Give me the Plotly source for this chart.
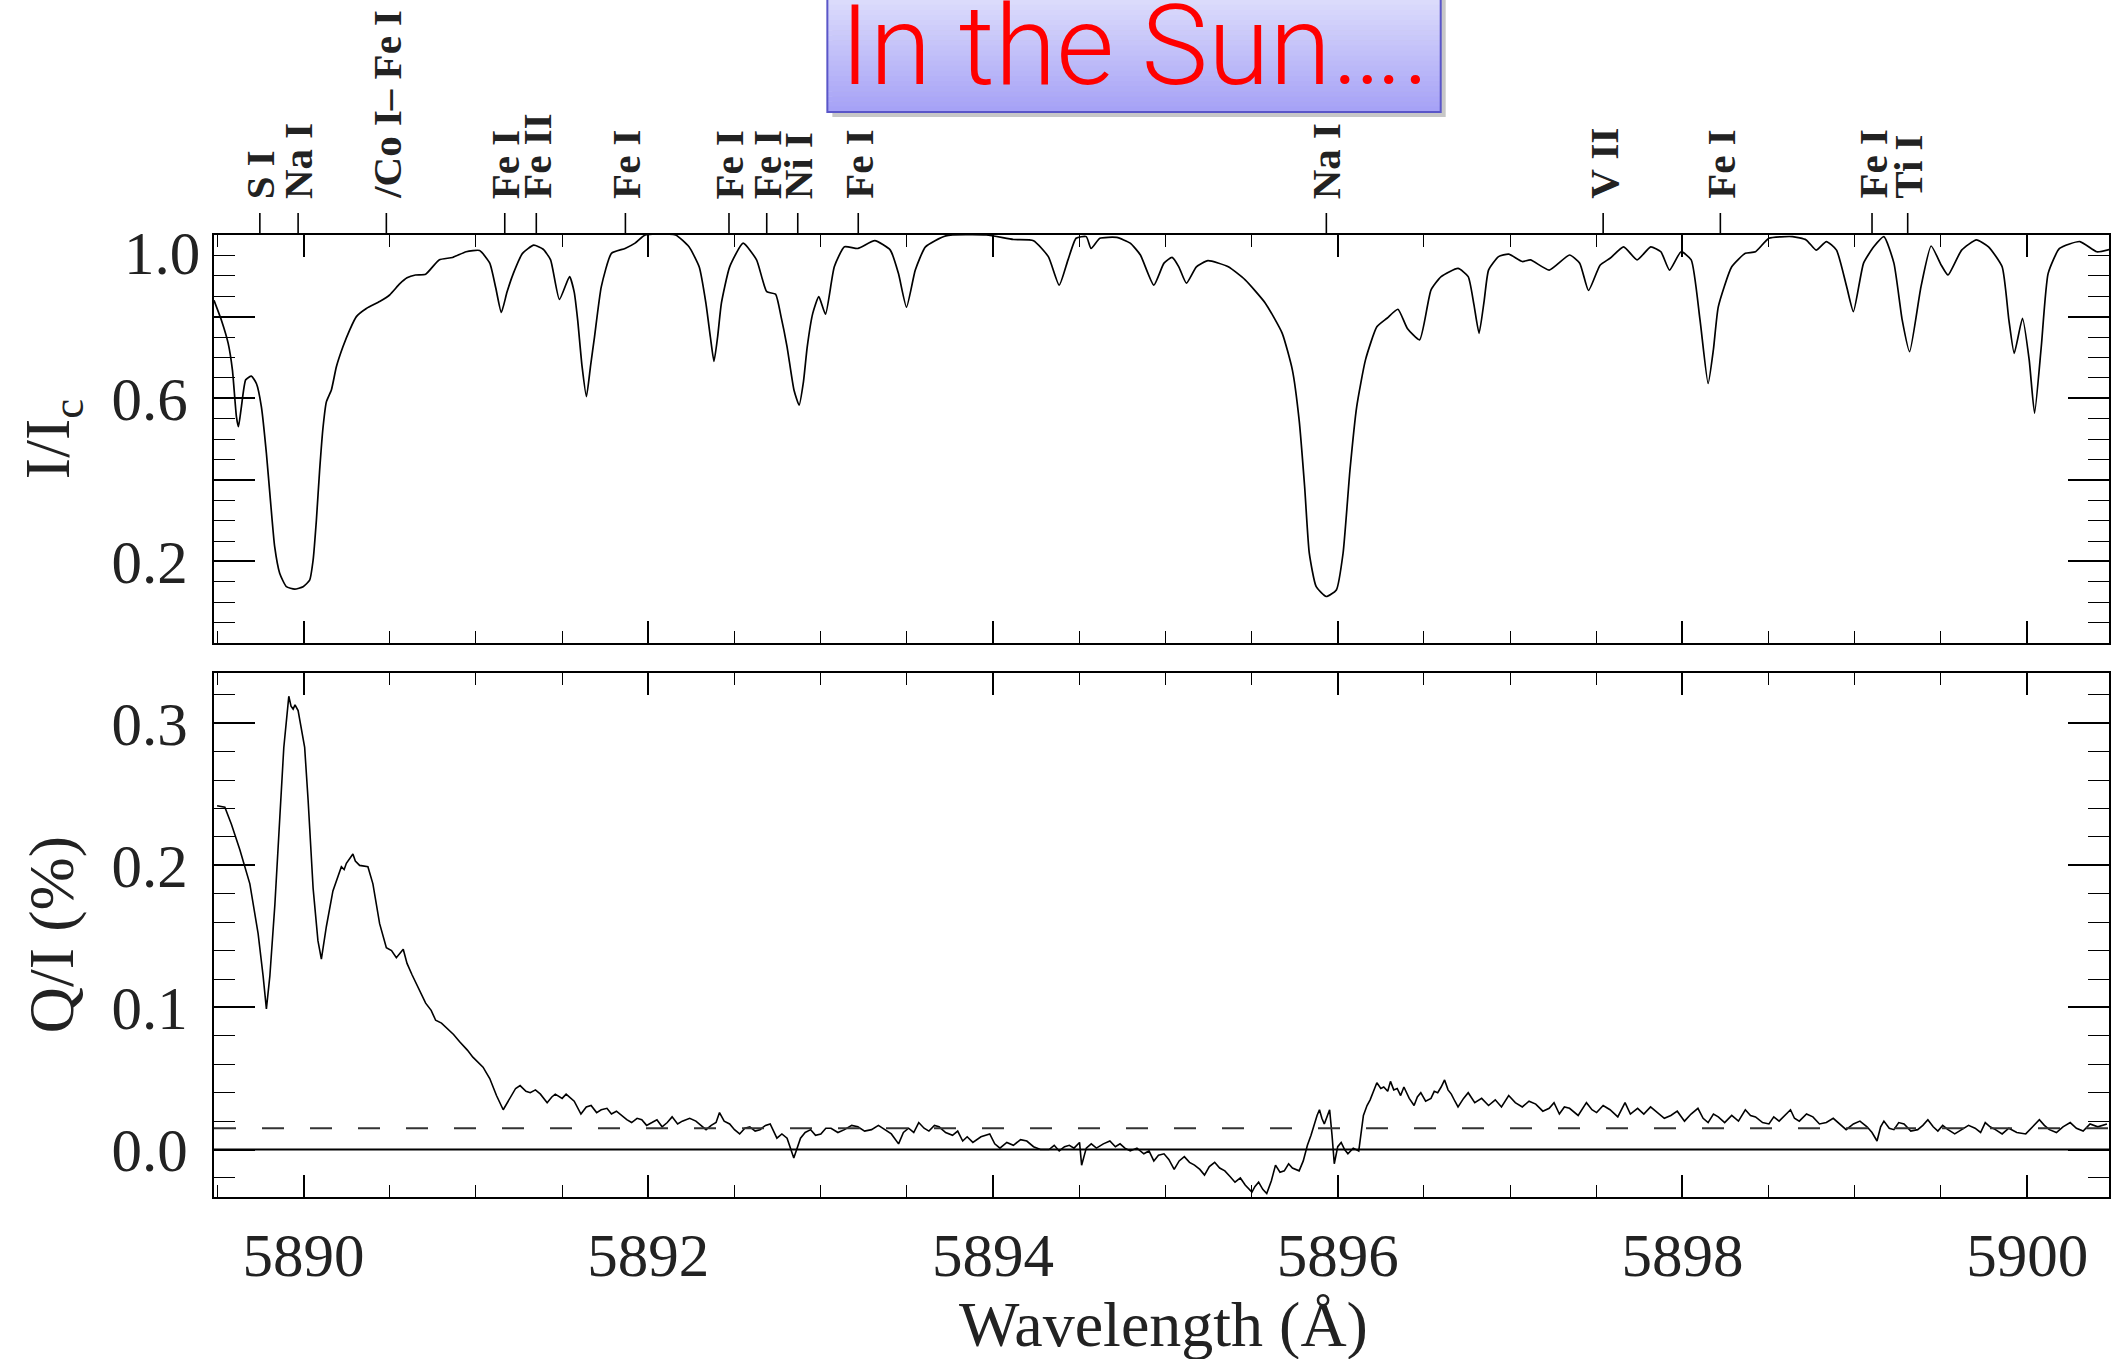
import plotly.graph_objects as go

# ---------------- data ----------------
WAVE_I = [5889.480, 5889.524, 5889.562, 5889.587, 5889.610, 5889.622, 5889.639, 5889.664, 5889.697, 5889.726,
          5889.755, 5889.784, 5889.809, 5889.832, 5889.861, 5889.900, 5889.948, 5889.997, 5890.035, 5890.055,
          5890.074, 5890.093, 5890.113, 5890.132, 5890.161, 5890.190, 5890.228, 5890.267, 5890.306, 5890.364,
          5890.441, 5890.499, 5890.557, 5890.600, 5890.649, 5890.708, 5890.786, 5890.864, 5890.943, 5891.021,
          5891.080, 5891.115, 5891.147, 5891.180, 5891.217, 5891.270, 5891.335, 5891.390, 5891.433, 5891.484,
          5891.543, 5891.570, 5891.590, 5891.615, 5891.641, 5891.665, 5891.688, 5891.727, 5891.786, 5891.865,
          5891.923, 5891.982, 5892.158, 5892.236, 5892.295, 5892.334, 5892.360, 5892.381, 5892.402, 5892.424,
          5892.472, 5892.550, 5892.628, 5892.687, 5892.738, 5892.770, 5892.805, 5892.845, 5892.875, 5892.900,
          5892.922, 5892.954, 5892.989, 5893.028, 5893.079, 5893.138, 5893.216, 5893.314, 5893.404, 5893.451,
          5893.498, 5893.549, 5893.608, 5893.726, 5893.961, 5894.118, 5894.235, 5894.321, 5894.384, 5894.435,
          5894.482, 5894.541, 5894.569, 5894.620, 5894.718, 5894.796, 5894.855, 5894.933, 5894.992, 5895.039,
          5895.078, 5895.122, 5895.180, 5895.247, 5895.365, 5895.463, 5895.580, 5895.678, 5895.737, 5895.776,
          5895.808, 5895.835, 5895.875, 5895.933, 5895.992, 5896.031, 5896.071, 5896.110, 5896.161, 5896.227,
          5896.286, 5896.349, 5896.404, 5896.475, 5896.541, 5896.600, 5896.698, 5896.757, 5896.790, 5896.820,
          5896.850, 5896.875, 5896.933, 5896.992, 5897.071, 5897.118, 5897.227, 5897.345, 5897.404, 5897.455,
          5897.522, 5897.580, 5897.659, 5897.737, 5897.816, 5897.875, 5897.925, 5897.992, 5898.051, 5898.102,
          5898.149, 5898.180, 5898.208, 5898.286, 5898.365, 5898.424, 5898.502, 5898.639, 5898.718, 5898.776,
          5898.835, 5898.894, 5898.953, 5898.992, 5899.051, 5899.110, 5899.169, 5899.227, 5899.275, 5899.318,
          5899.384, 5899.443, 5899.502, 5899.541, 5899.620, 5899.706, 5899.776, 5899.855, 5899.894, 5899.925,
          5899.973, 5900.012, 5900.043, 5900.082, 5900.122, 5900.188, 5900.306, 5900.404, 5900.480]
INTENSITY = [0.840, 0.790, 0.735, 0.669, 0.555, 0.530, 0.579, 0.645, 0.654, 0.636,
             0.579, 0.465, 0.342, 0.236, 0.171, 0.138, 0.132, 0.138, 0.154, 0.203,
             0.301, 0.424, 0.530, 0.591, 0.620, 0.677, 0.726, 0.767, 0.800, 0.820,
             0.837, 0.853, 0.880, 0.895, 0.902, 0.904, 0.939, 0.945, 0.959, 0.962,
             0.931, 0.870, 0.810, 0.860, 0.906, 0.955, 0.975, 0.965, 0.939, 0.842,
             0.898, 0.860, 0.792, 0.680, 0.604, 0.680, 0.751, 0.873, 0.955, 0.967,
             0.980, 1.000, 1.000, 0.971, 0.922, 0.833, 0.750, 0.690, 0.750, 0.833,
             0.922, 0.980, 0.939, 0.861, 0.855, 0.800, 0.726, 0.620, 0.583, 0.640,
             0.726, 0.808, 0.849, 0.806, 0.922, 0.971, 0.967, 0.986, 0.963, 0.906,
             0.823, 0.914, 0.971, 0.998, 1.000, 0.989, 0.986, 0.947, 0.877, 0.939,
             0.992, 0.996, 0.967, 0.992, 0.994, 0.980, 0.951, 0.877, 0.931, 0.945,
             0.922, 0.882, 0.922, 0.937, 0.922, 0.890, 0.833, 0.759, 0.669, 0.547,
             0.383, 0.220, 0.138, 0.114, 0.130, 0.220, 0.424, 0.579, 0.694, 0.775,
             0.796, 0.818, 0.771, 0.743, 0.865, 0.898, 0.918, 0.898, 0.830, 0.759,
             0.840, 0.914, 0.947, 0.953, 0.935, 0.939, 0.914, 0.951, 0.931, 0.864,
             0.926, 0.943, 0.971, 0.939, 0.971, 0.959, 0.914, 0.959, 0.939, 0.792,
             0.636, 0.720, 0.824, 0.922, 0.955, 0.959, 0.992, 0.996, 0.988, 0.963,
             0.984, 0.963, 0.873, 0.812, 0.931, 0.971, 0.996, 0.931, 0.792, 0.714,
             0.873, 0.973, 0.926, 0.902, 0.963, 0.988, 0.971, 0.922, 0.792, 0.710,
             0.796, 0.694, 0.563, 0.726, 0.906, 0.967, 0.984, 0.959, 0.965]

WAVE_Q = [5889.498, 5889.543, 5889.581, 5889.630, 5889.688, 5889.736, 5889.765, 5889.784, 5889.804, 5889.833,
          5889.862, 5889.885, 5889.914, 5889.927, 5889.939, 5889.950, 5889.968, 5890.006, 5890.026, 5890.055,
          5890.083, 5890.103, 5890.132, 5890.170, 5890.219, 5890.235, 5890.248, 5890.286, 5890.300, 5890.325,
          5890.373, 5890.402, 5890.441, 5890.480, 5890.510, 5890.538, 5890.578, 5890.600, 5890.629, 5890.668,
          5890.708, 5890.740, 5890.766, 5890.800, 5890.825, 5890.870, 5890.904, 5890.950, 5890.982, 5891.041,
          5891.080, 5891.119, 5891.158, 5891.198, 5891.230, 5891.256, 5891.290, 5891.315, 5891.345, 5891.374,
          5891.413, 5891.440, 5891.460, 5891.500, 5891.523, 5891.570, 5891.609, 5891.640, 5891.668, 5891.700,
          5891.727, 5891.760, 5891.786, 5891.815, 5891.844, 5891.875, 5891.903, 5891.935, 5891.962, 5891.990,
          5892.021, 5892.050, 5892.080, 5892.110, 5892.138, 5892.170, 5892.197, 5892.240, 5892.276, 5892.305,
          5892.335, 5892.365, 5892.393, 5892.413, 5892.440, 5892.472, 5892.500, 5892.530, 5892.560, 5892.589,
          5892.620, 5892.648, 5892.680, 5892.707, 5892.746, 5892.775, 5892.805, 5892.844, 5892.883, 5892.910,
          5892.942, 5892.970, 5893.001, 5893.030, 5893.060, 5893.100, 5893.138, 5893.180, 5893.216, 5893.255,
          5893.295, 5893.335, 5893.373, 5893.410, 5893.452, 5893.480, 5893.510, 5893.540, 5893.569, 5893.600,
          5893.628, 5893.660, 5893.687, 5893.725, 5893.765, 5893.795, 5893.824, 5893.850, 5893.883, 5893.930,
          5893.981, 5894.010, 5894.040, 5894.080, 5894.118, 5894.160, 5894.196, 5894.235, 5894.275, 5894.325,
          5894.355, 5894.384, 5894.415, 5894.443, 5894.470, 5894.502, 5894.514, 5894.541, 5894.570, 5894.600,
          5894.640, 5894.678, 5894.710, 5894.737, 5894.765, 5894.796, 5894.835, 5894.875, 5894.905, 5894.933,
          5894.960, 5894.992, 5895.020, 5895.051, 5895.080, 5895.110, 5895.140, 5895.169, 5895.200, 5895.227,
          5895.255, 5895.286, 5895.315, 5895.345, 5895.375, 5895.404, 5895.435, 5895.463, 5895.502, 5895.520,
          5895.541, 5895.565, 5895.588, 5895.615, 5895.639, 5895.665, 5895.690, 5895.715, 5895.737, 5895.776,
          5895.800, 5895.824, 5895.845, 5895.863, 5895.880, 5895.894, 5895.908, 5895.922, 5895.938, 5895.953,
          5895.967, 5895.980, 5896.000, 5896.020, 5896.040, 5896.059, 5896.090, 5896.122, 5896.149, 5896.170,
          5896.188, 5896.210, 5896.227, 5896.250, 5896.267, 5896.290, 5896.306, 5896.325, 5896.345, 5896.365,
          5896.384, 5896.415, 5896.443, 5896.462, 5896.482, 5896.510, 5896.541, 5896.560, 5896.580, 5896.600,
          5896.620, 5896.640, 5896.659, 5896.680, 5896.698, 5896.730, 5896.757, 5896.795, 5896.835, 5896.875,
          5896.914, 5896.950, 5896.992, 5897.030, 5897.071, 5897.110, 5897.149, 5897.190, 5897.227, 5897.255,
          5897.286, 5897.315, 5897.345, 5897.395, 5897.443, 5897.475, 5897.502, 5897.540, 5897.580, 5897.625,
          5897.667, 5897.698, 5897.740, 5897.776, 5897.815, 5897.855, 5897.895, 5897.933, 5897.970, 5898.012,
          5898.050, 5898.090, 5898.120, 5898.149, 5898.180, 5898.208, 5898.245, 5898.286, 5898.325, 5898.365,
          5898.395, 5898.424, 5898.465, 5898.502, 5898.530, 5898.561, 5898.595, 5898.627, 5898.650, 5898.678,
          5898.720, 5898.757, 5898.795, 5898.835, 5898.875, 5898.914, 5898.950, 5898.992, 5899.030, 5899.071,
          5899.100, 5899.129, 5899.150, 5899.169, 5899.200, 5899.227, 5899.255, 5899.286, 5899.325, 5899.365,
          5899.395, 5899.424, 5899.455, 5899.482, 5899.510, 5899.541, 5899.580, 5899.620, 5899.660, 5899.698,
          5899.730, 5899.757, 5899.785, 5899.816, 5899.855, 5899.894, 5899.940, 5899.992, 5900.030, 5900.071,
          5900.100, 5900.129, 5900.170, 5900.208, 5900.250, 5900.286, 5900.325, 5900.365, 5900.410, 5900.463]
Q_OVER_I = [0.242, 0.241, 0.229, 0.211, 0.187, 0.152, 0.122, 0.099, 0.122, 0.172,
            0.234, 0.283, 0.319, 0.312, 0.310, 0.313, 0.309, 0.283, 0.246, 0.184,
            0.147, 0.134, 0.157, 0.182, 0.199, 0.197, 0.2015, 0.208, 0.203, 0.200,
            0.199, 0.187, 0.159, 0.142, 0.140, 0.135, 0.141, 0.131, 0.123, 0.113,
            0.103, 0.098, 0.091, 0.089, 0.086, 0.081, 0.076, 0.070, 0.065, 0.058,
            0.050, 0.038, 0.028, 0.036, 0.043, 0.045, 0.041, 0.040, 0.042, 0.039,
            0.033, 0.037, 0.039, 0.036, 0.039, 0.034, 0.025, 0.030, 0.031, 0.026,
            0.028, 0.029, 0.025, 0.027, 0.024, 0.021, 0.019, 0.022, 0.021, 0.017,
            0.019, 0.021, 0.016, 0.019, 0.023, 0.018, 0.020, 0.022, 0.020, 0.017,
            0.014, 0.017, 0.019, 0.026, 0.020, 0.018, 0.014, 0.011, 0.015, 0.016,
            0.013, 0.014, 0.017, 0.018, 0.008, 0.011, 0.008, -0.006, 0.008, 0.012,
            0.014, 0.010, 0.011, 0.015, 0.015, 0.012, 0.014, 0.017, 0.016, 0.013,
            0.014, 0.017, 0.014, 0.011, 0.004, 0.012, 0.015, 0.012, 0.019, 0.015,
            0.013, 0.017, 0.016, 0.012, 0.010, 0.013, 0.006, 0.009, 0.005, 0.009,
            0.011, 0.004, 0.001, 0.005, 0.003, 0.007, 0.006, 0.002, 0.000, 0.000,
            0.003, -0.001, 0.002, 0.003, 0.001, 0.005, -0.011, 0.001, 0.004, 0.001,
            0.004, 0.006, 0.002, 0.004, 0.001, -0.001, 0.001, -0.003, -0.001, -0.008,
            -0.004, -0.003, -0.007, -0.014, -0.008, -0.005, -0.009, -0.011, -0.014, -0.018,
            -0.012, -0.009, -0.013, -0.015, -0.019, -0.023, -0.020, -0.025, -0.030, -0.026,
            -0.023, -0.028, -0.031, -0.022, -0.011, -0.016, -0.015, -0.010, -0.013, -0.015,
            -0.008, 0.003, 0.010, 0.018, 0.024, 0.028, 0.022, 0.018, 0.024, 0.028,
            0.010, -0.010, 0.002, 0.005, 0.000, -0.003, 0.001, -0.001, 0.024, 0.031,
            0.035, 0.042, 0.047, 0.043, 0.044, 0.041, 0.048, 0.042, 0.043, 0.038,
            0.044, 0.036, 0.031, 0.037, 0.040, 0.034, 0.036, 0.041, 0.040, 0.044,
            0.049, 0.042, 0.039, 0.034, 0.030, 0.036, 0.040, 0.033, 0.036, 0.031,
            0.035, 0.030, 0.038, 0.033, 0.030, 0.034, 0.032, 0.027, 0.029, 0.033,
            0.025, 0.030, 0.029, 0.024, 0.033, 0.028, 0.026, 0.031, 0.028, 0.023,
            0.033, 0.025, 0.029, 0.025, 0.030, 0.026, 0.022, 0.024, 0.027, 0.020,
            0.025, 0.029, 0.022, 0.019, 0.025, 0.023, 0.019, 0.024, 0.020, 0.028,
            0.024, 0.023, 0.019, 0.018, 0.023, 0.020, 0.024, 0.028, 0.022, 0.020,
            0.025, 0.023, 0.018, 0.019, 0.022, 0.018, 0.014, 0.018, 0.020, 0.016,
            0.012, 0.006, 0.016, 0.020, 0.015, 0.014, 0.019, 0.018, 0.013, 0.014,
            0.017, 0.021, 0.016, 0.013, 0.017, 0.014, 0.011, 0.014, 0.017, 0.015,
            0.012, 0.019, 0.016, 0.014, 0.011, 0.015, 0.012, 0.011, 0.016, 0.021,
            0.017, 0.014, 0.012, 0.016, 0.019, 0.015, 0.013, 0.018, 0.016, 0.018]

X_RANGE = [5889.48, 5900.475]
X_TICKS = [5890, 5892, 5894, 5896, 5898, 5900]
I_RANGE = [0.0, 1.0]
I_TICKS = [0.0, 0.2, 0.4, 0.6, 0.8, 1.0]
I_TICK_TEXT = ["", "0.2", "", "0.6", "", ""]
I_TOP_LABEL = ("1.0", 0.955)
Q_RANGE = [-0.0334, 0.3354]
Q_TICKS = [0.0, 0.1, 0.2, 0.3]
Q_TICK_TEXT = ["0.0", "0.1", "0.2", "0.3"]
ZERO_LEVEL = 0.0
DASH_LEVEL = 0.015

LINE_WAVES = [5889.746, 5889.968, 5890.48, 5891.167, 5891.35, 5891.867, 5892.468, 5892.687,
              5892.867, 5893.218, 5895.934, 5897.54, 5898.22, 5899.10, 5899.307]
LINE_NAMES = ["S I", "Na I", "/Co I\u2013 Fe I", "Fe I", "Fe II", "Fe I", "Fe I", "Fe I",
              "Ni I", "Fe I", "Na I", "V II", "Fe I", "Fe I", "Ti I"]

TITLE = "In the Sun\u2026."
X_TITLE = "Wavelength (\u00c5)"
I_TITLE = "I/I<sub>c</sub>"
Q_TITLE = "Q/I (%)"

# ---------------- layout geometry ----------------
W, H = 2111, 1359
ML, MR, MT, MB = 214, 0, 235, 162
PW, PH = W - ML - MR, H - MT - MB


def px_x(px):
    return (px - ML) / PW


def px_y(py):
    return (H - MB - py) / PH


TOP_DOMAIN = [px_y(643), 1.0]
BOT_DOMAIN = [0.0, px_y(673)]

SERIF = "Liberation Serif"
TICK_FONT = dict(family=SERIF, size=61, color="#222")

fig = go.Figure()
fig.add_trace(go.Scatter(x=WAVE_I, y=INTENSITY, mode="lines", xaxis="x", yaxis="y",
                         line=dict(color="black", width=1.7, shape="spline", smoothing=0.5),
                         hoverinfo="skip"))
fig.add_trace(go.Scatter(x=WAVE_Q, y=Q_OVER_I, mode="lines", xaxis="x2", yaxis="y2",
                         line=dict(color="black", width=1.6), hoverinfo="skip"))

common_x = dict(range=X_RANGE, showline=True, linecolor="black", linewidth=2, mirror="ticks",
                ticks="inside", ticklen=22, tickwidth=1.6, tickcolor="black",
                tickmode="array", tickvals=X_TICKS, showgrid=False, zeroline=False,
                minor=dict(ticks="inside", ticklen=12, tickwidth=1.4, tickcolor="black",
                           dtick=0.5, tick0=5890, showgrid=False))
common_y = dict(showline=True, linecolor="black", linewidth=2, mirror="ticks",
                ticks="inside", ticklen=41, tickwidth=1.6, tickcolor="black",
                tickmode="array", showgrid=False, zeroline=False,
                tickfont=TICK_FONT, ticklabelstandoff=12)

fig.update_layout(
    width=W, height=H,
    margin=dict(l=ML, r=MR, t=MT, b=MB, pad=0),
    paper_bgcolor="white", plot_bgcolor="white", showlegend=False,
    xaxis=dict(domain=[0, 1], anchor="y", showticklabels=False, **common_x),
    xaxis2=dict(domain=[0, 1], anchor="y2", showticklabels=True, tickfont=TICK_FONT,
                ticktext=[str(t) for t in X_TICKS], ticklabelstandoff=4, **common_x),
    yaxis=dict(domain=TOP_DOMAIN, anchor="x", range=I_RANGE, tickvals=I_TICKS, ticktext=I_TICK_TEXT,
               minor=dict(ticks="inside", ticklen=21, tickwidth=1.4, tickcolor="black",
                          dtick=0.05, tick0=0, showgrid=False),
               **common_y),
    yaxis2=dict(domain=BOT_DOMAIN, anchor="x2", range=Q_RANGE, tickvals=Q_TICKS, ticktext=Q_TICK_TEXT,
                minor=dict(ticks="inside", ticklen=21, tickwidth=1.4, tickcolor="black",
                           dtick=0.02, tick0=0, showgrid=False),
                **common_y),
)

shapes = []
annotations = []

# reference levels in Q/I panel
shapes.append(dict(type="line", xref="x2 domain", yref="y2", x0=0, x1=1, y0=ZERO_LEVEL, y1=ZERO_LEVEL,
                   line=dict(color="black", width=2)))
shapes.append(dict(type="line", xref="x2 domain", yref="y2", x0=0, x1=1, y0=DASH_LEVEL, y1=DASH_LEVEL,
                   line=dict(color="#333", width=2, dash="22px,26px")))

# spectral line identifications
tick_y0, tick_y1 = 1.0, 1.0 + 22 / PH
label_y = 1.0 + 34 / PH
for wl, name in zip(LINE_WAVES, LINE_NAMES):
    shapes.append(dict(type="line", xref="x", yref="paper", x0=wl, x1=wl, y0=tick_y0, y1=tick_y1,
                       line=dict(color="black", width=1.6)))
    annotations.append(dict(text="<b>" + name + "</b>", x=wl, xref="x", y=label_y, yref="paper",
                            textangle=-90, xanchor="center", yanchor="bottom", showarrow=False,
                            font=dict(family=SERIF, size=41, color="#222")))

# "1.0" tick label (drawn slightly below the top edge like the original)
annotations.append(dict(text=I_TOP_LABEL[0], x=-12 / PW, xref="paper", y=I_TOP_LABEL[1], yref="y",
                        xanchor="right", yanchor="middle", showarrow=False, font=TICK_FONT))

# axis titles
annotations.append(dict(text=X_TITLE, x=px_x(1165), xref="paper", y=px_y(1324), yref="paper",
                        xanchor="center", yanchor="middle", showarrow=False,
                        font=dict(family=SERIF, size=64, color="#222")))
annotations.append(dict(text=I_TITLE, x=px_x(52), xref="paper", y=px_y(439), yref="paper",
                        textangle=-90, xanchor="center", yanchor="middle", showarrow=False,
                        font=dict(family=SERIF, size=64, color="#222")))
annotations.append(dict(text=Q_TITLE, x=px_x(52), xref="paper", y=px_y(935), yref="paper",
                        textangle=-90, xanchor="center", yanchor="middle", showarrow=False,
                        font=dict(family=SERIF, size=64, color="#222")))

# title box with gradient
bx0, bx1 = px_x(828), px_x(1442)
by_top, by_bot = px_y(-10), px_y(112)
shapes.append(dict(type="rect", xref="paper", yref="paper", x0=bx0 + 5 / PW, x1=bx1 + 5 / PW,
                   y0=by_bot - 5 / PH, y1=by_top, fillcolor="rgba(0,0,0,0.22)", line=dict(width=0), layer="above"))
N = 24
c_top = (224, 224, 252)
c_bot = (166, 162, 246)
for i in range(N):
    f = i / (N - 1)
    col = tuple(round(c_top[k] + (c_bot[k] - c_top[k]) * f) for k in range(3))
    ya = by_top - (by_top - by_bot) * i / N
    yb = by_top - (by_top - by_bot) * (i + 1) / N
    shapes.append(dict(type="rect", xref="paper", yref="paper", x0=bx0, x1=bx1, y0=yb, y1=ya + 0.0005,
                       fillcolor="rgb(%d,%d,%d)" % col, line=dict(width=0), layer="above"))
shapes.append(dict(type="rect", xref="paper", yref="paper", x0=bx0, x1=bx1, y0=by_bot, y1=by_top,
                   fillcolor="rgba(0,0,0,0)", line=dict(color="#5a56c8", width=2), layer="above"))
annotations.append(dict(text=TITLE, x=px_x(1136), xref="paper", y=px_y(46), yref="paper",
                        xanchor="center", yanchor="middle", showarrow=False,
                        font=dict(family="Roboto", size=112, color="#ff0000", weight=300)))

fig.update_layout(shapes=shapes, annotations=annotations)
fig.write_html("out.html")
